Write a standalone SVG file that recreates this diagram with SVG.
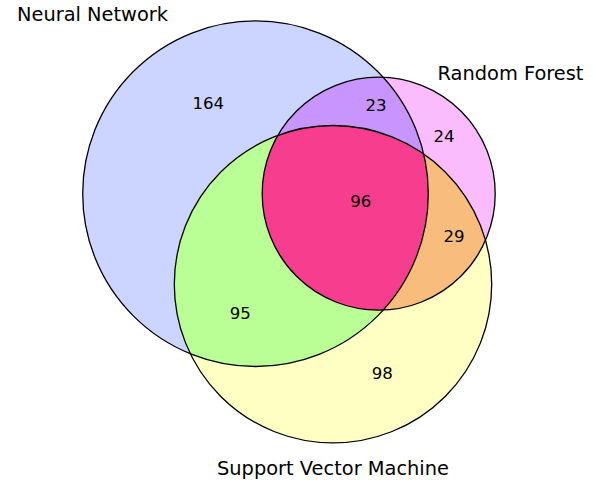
<svg xmlns="http://www.w3.org/2000/svg" width="593" height="491" viewBox="0 0 593 491">
<style>
.lbl{font-family:"DejaVu Sans",sans-serif;font-size:19.4px;fill:#000;text-anchor:middle}
.num{font-family:"DejaVu Sans",sans-serif;font-size:16.6px;fill:#000;text-anchor:middle}
.edge{fill:none;stroke:#000;stroke-width:1.3}
</style>
<defs>
<clipPath id="cNN"><circle cx="255.5" cy="193.7" r="172.8"/></clipPath>
<clipPath id="cRF"><circle cx="378.7" cy="193.7" r="116.5"/></clipPath>
<clipPath id="cRFinNN" clip-path="url(#cNN)"><circle cx="378.7" cy="193.7" r="116.5"/></clipPath>
</defs>
<rect width="593" height="491" fill="#fff"/>
<g id="regions">
<circle cx="255.5" cy="193.7" r="172.8" fill="#ccd5ff"/>
<circle cx="378.7" cy="193.7" r="116.5" fill="#fabcfd"/>
<circle cx="333" cy="284.2" r="158.7" fill="#ffffc4"/>
<circle cx="378.7" cy="193.7" r="116.5" fill="#c795fd" clip-path="url(#cNN)"/>
<circle cx="333" cy="284.2" r="158.7" fill="#b9ff95" clip-path="url(#cNN)"/>
<circle cx="333" cy="284.2" r="158.7" fill="#f8bd7c" clip-path="url(#cRF)"/>
<circle cx="333" cy="284.2" r="158.7" fill="#f73d8d" clip-path="url(#cRFinNN)"/>
</g>
<g id="outlines">
<circle class="edge" cx="255.5" cy="193.7" r="172.8"/>
<circle class="edge" cx="378.7" cy="193.7" r="116.5"/>
<circle class="edge" cx="333" cy="284.2" r="158.7"/>
</g>
<g id="set-labels">
<text class="lbl" x="92.5" y="21">Neural Network</text>
<text class="lbl" x="510.5" y="80">Random Forest</text>
<text class="lbl" x="333" y="475">Support Vector Machine</text>
</g>
<g id="counts">
<text class="num" x="208.3" y="108.5">164</text>
<text class="num" x="376" y="111">23</text>
<text class="num" x="444" y="142">24</text>
<text class="num" x="360.7" y="207.3">96</text>
<text class="num" x="454" y="241.7">29</text>
<text class="num" x="240.3" y="319">95</text>
<text class="num" x="382.3" y="379.3">98</text>
</g>
</svg>
